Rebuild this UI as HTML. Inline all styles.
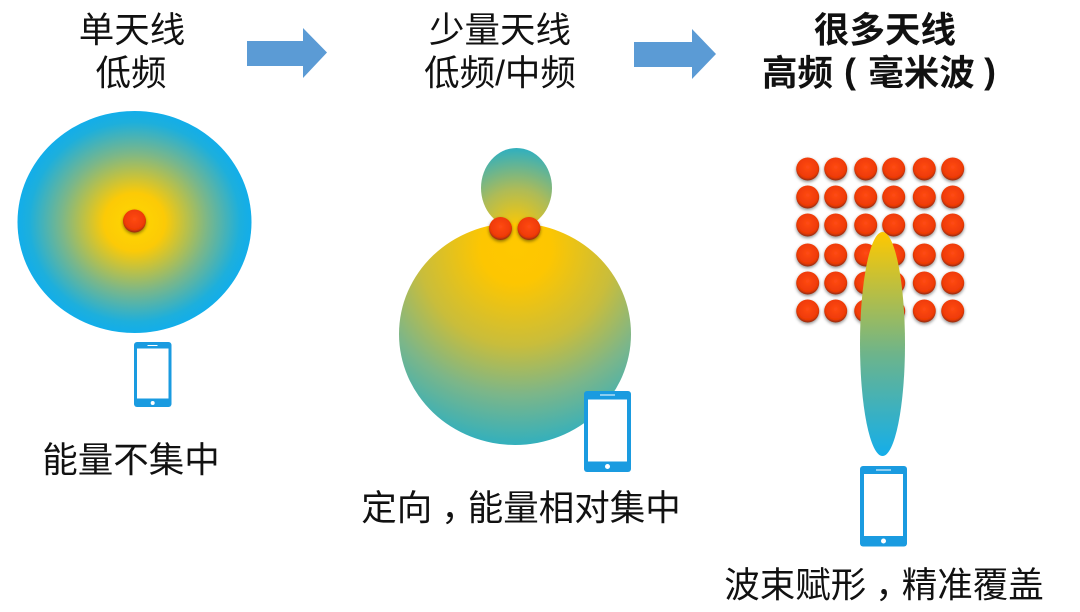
<!DOCTYPE html>
<html><head><meta charset="utf-8"><style>
html,body{margin:0;padding:0;background:#fff}
svg{display:block}
text{font-family:"Liberation Sans","Noto Sans CJK SC",sans-serif;font-size:35.5px;fill:#111;text-anchor:middle}
.b{font-weight:700}
</style></head><body>
<svg width="1080" height="612" viewBox="0 0 1080 612" xmlns="http://www.w3.org/2000/svg">
<defs>
<radialGradient id="g1" gradientUnits="userSpaceOnUse" cx="0" cy="0" r="1" gradientTransform="translate(134.5 222) scale(117 111)">
<stop offset="0" stop-color="#ffd800"/><stop offset=".26" stop-color="#fcca06"/><stop offset=".62" stop-color="#7cb788"/><stop offset=".9" stop-color="#1dafdc"/><stop offset="1" stop-color="#12aeea"/></radialGradient>
<radialGradient id="g2" gradientUnits="userSpaceOnUse" cx="516" cy="248" r="195">
<stop offset="0" stop-color="#ffc800"/><stop offset=".18" stop-color="#fdc601"/><stop offset=".5" stop-color="#c9bd3b"/><stop offset=".75" stop-color="#7db688"/><stop offset="1" stop-color="#35b0bb"/></radialGradient>
<radialGradient id="g3" gradientUnits="userSpaceOnUse" cx="516" cy="228" r="78">
<stop offset="0" stop-color="#ffc800"/><stop offset=".5" stop-color="#aebb57"/><stop offset="1" stop-color="#35b0bb"/></radialGradient>
<linearGradient id="g4" x1="0" y1="0" x2="0" y2="1">
<stop offset="0" stop-color="#ffc800"/><stop offset=".55" stop-color="#6cb48c"/><stop offset="1" stop-color="#14aeea"/></linearGradient>
<radialGradient id="r" cx=".5" cy=".42" r=".58">
<stop offset="0" stop-color="#ff4a14"/><stop offset=".78" stop-color="#ee3a05"/><stop offset="1" stop-color="#8f2c10"/></radialGradient>
<filter id="s" x="-40%" y="-40%" width="180%" height="190%"><feDropShadow dx="0" dy="1.5" stdDeviation="1.5" flood-color="#000" flood-opacity=".45"/></filter>
</defs>

<polygon points="247,41 303,41 303,28 327,52.5 303,78 303,66 247,66" fill="#5b9bd5"/>
<polygon points="634,42 692,42 692,29 716,54 692,79 692,67 634,67" fill="#5b9bd5"/>

<text x="132" y="42">单天线</text>
<text x="131" y="85">低频</text>
<text x="500" y="42">少量天线</text>
<text x="500" y="85">低频/中频</text>
<text x="885" y="42" class="b">很多天线</text>
<text x="797.5" y="85" class="b">高频</text>
<text x="850" y="83" class="b">(</text>
<text x="921.5" y="85" class="b">毫米波</text>
<text x="990" y="83" class="b">)</text>

<ellipse cx="134.5" cy="222" rx="117" ry="111" fill="url(#g1)"/>
<circle cx="134.5" cy="221" r="11.5" fill="url(#r)" filter="url(#s)"/>

<ellipse cx="516.5" cy="188" rx="35.5" ry="40" fill="url(#g3)"/>
<ellipse cx="515" cy="334" rx="116" ry="111" fill="url(#g2)"/>
<circle cx="500.5" cy="228.5" r="11.5" fill="url(#r)" filter="url(#s)"/>
<circle cx="529" cy="228.5" r="11.5" fill="url(#r)" filter="url(#s)"/>

<g fill="url(#r)" filter="url(#s)">
<circle cx="807.7" cy="169" r="11.5"/><circle cx="835.7" cy="169" r="11.5"/><circle cx="865.7" cy="169" r="11.5"/><circle cx="893.7" cy="169" r="11.5"/><circle cx="924.3" cy="169" r="11.5"/><circle cx="952.7" cy="169" r="11.5"/>
<circle cx="807.7" cy="197" r="11.5"/><circle cx="835.7" cy="197" r="11.5"/><circle cx="865.7" cy="197" r="11.5"/><circle cx="893.7" cy="197" r="11.5"/><circle cx="924.3" cy="197" r="11.5"/><circle cx="952.7" cy="197" r="11.5"/>
<circle cx="807.7" cy="225" r="11.5"/><circle cx="835.7" cy="225" r="11.5"/><circle cx="865.7" cy="225" r="11.5"/><circle cx="893.7" cy="225" r="11.5"/><circle cx="924.3" cy="225" r="11.5"/><circle cx="952.7" cy="225" r="11.5"/>
<circle cx="807.7" cy="255" r="11.5"/><circle cx="835.7" cy="255" r="11.5"/><circle cx="865.7" cy="255" r="11.5"/><circle cx="893.7" cy="255" r="11.5"/><circle cx="924.3" cy="255" r="11.5"/><circle cx="952.7" cy="255" r="11.5"/>
<circle cx="807.7" cy="283" r="11.5"/><circle cx="835.7" cy="283" r="11.5"/><circle cx="865.7" cy="283" r="11.5"/><circle cx="893.7" cy="283" r="11.5"/><circle cx="924.3" cy="283" r="11.5"/><circle cx="952.7" cy="283" r="11.5"/>
<circle cx="807.7" cy="311" r="11.5"/><circle cx="835.7" cy="311" r="11.5"/><circle cx="865.7" cy="311" r="11.5"/><circle cx="893.7" cy="311" r="11.5"/><circle cx="924.3" cy="311" r="11.5"/><circle cx="952.7" cy="311" r="11.5"/>
</g>
<ellipse cx="882.5" cy="344" rx="22.5" ry="112" fill="url(#g4)"/>

<!-- phone 1 -->
<rect x="134" y="342" width="37.500" height="65" rx="3" fill="#1a9be0"/>
<rect x="137" y="348.500" width="31.500" height="50" fill="#fff"/>
<rect x="147.500" y="345" width="10" height="1" fill="#fff"/>
<circle cx="152.700" cy="403" r="2" fill="#fff"/>
<!-- phone 2 -->
<rect x="584" y="391" width="47" height="81" rx="3" fill="#1a9be0"/>
<rect x="588" y="399.500" width="39" height="62" fill="#fff"/>
<rect x="600" y="394.500" width="15" height="1" fill="#fff"/>
<circle cx="607.500" cy="466.500" r="2.500" fill="#fff"/>
<!-- phone 3 -->
<rect x="860" y="466" width="47" height="80.500" rx="3" fill="#1a9be0"/>
<rect x="864" y="474" width="39" height="62" fill="#fff"/>
<rect x="876" y="469.500" width="15" height="1" fill="#fff"/>
<circle cx="883.500" cy="541" r="2.500" fill="#fff"/>

<text x="131" y="472">能量不集中</text>
<text x="521" y="520">定向<tspan dx="9">，</tspan><tspan dx="-9">能量相对集中</tspan></text>
<text x="884" y="597">波束赋形<tspan dx="9">，</tspan><tspan dx="-9">精准覆盖</tspan></text>
</svg>
</body></html>
